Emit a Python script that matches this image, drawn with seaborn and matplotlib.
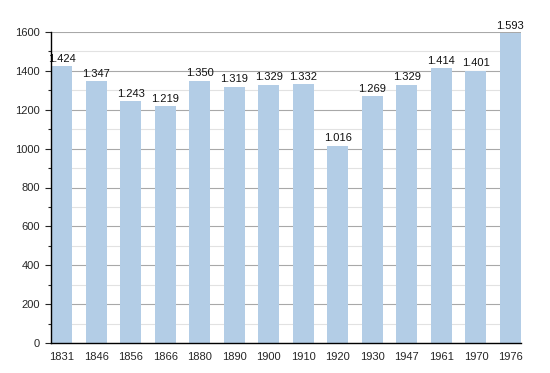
import matplotlib
matplotlib.use("Agg")
import matplotlib.pyplot as plt
import seaborn as sns
import pandas as pd
from matplotlib.ticker import MultipleLocator

years = ["1831", "1846", "1856", "1866", "1880", "1890", "1900", "1910",
         "1920", "1930", "1947", "1961", "1970", "1976"]
population = [1424, 1347, 1243, 1219, 1350, 1319, 1329, 1332,
              1016, 1269, 1329, 1414, 1401, 1593]
labels = ["1.424", "1.347", "1.243", "1.219", "1.350", "1.319", "1.329", "1.332",
          "1.016", "1.269", "1.329", "1.414", "1.401", "1.593"]

df = pd.DataFrame({"year": years, "pop": population})

sns.set_style("white")
plt.rcParams["font.family"] = ["Liberation Sans", "DejaVu Sans"]

fig = plt.figure(figsize=(5.5, 3.73), dpi=100)
ax = fig.add_axes([51/550, 1 - 343/373, 470/550, 311/373])

w = 0.61
sns.barplot(data=df, x="year", y="pop", color="#b3cde6", saturation=1,
            width=w, ax=ax, zorder=3, linewidth=0, edgecolor="none")

for i, (v, t) in enumerate(zip(population, labels)):
    ax.text(i, v + 12, t, ha="center", va="bottom", fontsize=8, color="#111111")

ax.set_ylim(0, 1600)
ax.set_xlim(-w/2, len(years) - 1 + w/2)
ax.yaxis.set_major_locator(MultipleLocator(200))
ax.yaxis.set_minor_locator(MultipleLocator(100))
ax.grid(axis="y", which="major", color="#a8a8a8", linewidth=0.8, zorder=0)
ax.grid(axis="y", which="minor", color="#e2e2e2", linewidth=0.8, zorder=0)
ax.set_axisbelow(True)

for s in ["top", "right"]:
    ax.spines[s].set_visible(False)
for s in ["left", "bottom"]:
    ax.spines[s].set_color("black")
    ax.spines[s].set_linewidth(1.0)
    ax.spines[s].set_zorder(5)

ax.tick_params(axis="y", which="major", left=True, length=4, width=0.8, labelsize=8, pad=4)
ax.tick_params(axis="y", which="minor", left=True, length=2, width=0.8)
ax.tick_params(axis="x", bottom=False, labelsize=8, pad=3)
ax.set_xlabel("")
ax.set_ylabel("")

fig.savefig("out.png", dpi=100)
